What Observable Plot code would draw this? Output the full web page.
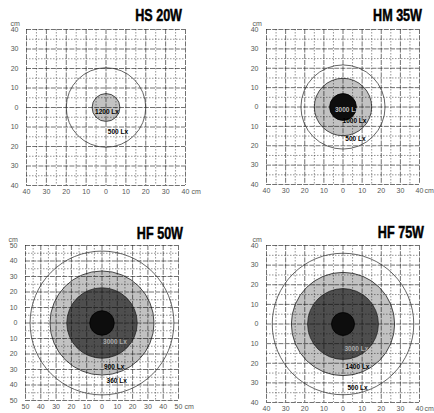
<!DOCTYPE html>
<html><head><meta charset="utf-8">
<script src="https://cdn.jsdelivr.net/npm/d3@7"></script>
<script src="https://cdn.jsdelivr.net/npm/@observablehq/plot@0.6"></script>
<style>
html,body{margin:0;padding:0;background:#fff}
body{width:434px;height:413px;position:relative;overflow:hidden;font-family:"Liberation Sans",Arial,sans-serif}
.panel{position:absolute}
.title{position:absolute;font-family:"Liberation Sans",Arial,sans-serif;font-weight:bold;font-size:17px;line-height:17px;text-align:right;color:#000;width:120px;transform:scaleX(0.74);transform-origin:right center;-webkit-text-stroke:0.5px #000;white-space:nowrap}
</style></head><body>
<script>
// ---- data ----
const titles = ["HS 20W", "HM 35W", "HF 50W", "HF 75W"];
const extents = [40, 40, 50, 40];                 // half-width of each chart (cm)
const ticks40 = [-40, -30, -20, -10, 0, 10, 20, 30, 40];
const ticks50 = [-50, -40, -30, -20, -10, 0, 10, 20, 30, 40, 50];
const grid40 = [-40,-35,-30,-25,-20,-15,-10,-5,0,5,10,15,20,25,30,35,40];
const grid50 = [-50,-45,-40,-35,-30,-25,-20,-15,-10,-5,0,5,10,15,20,25,30,35,40,45,50];
const unit = "cm";

// illuminance zones: radius in cm, zone type
const hs20Zones = [{radius: 20, zone: "ring"}, {radius: 7, zone: "light"}];
const hm35Zones = [{radius: 22, zone: "ring"}, {radius: 15, zone: "light"}, {radius: 7, zone: "core"}];
const hf50Zones = [{radius: 47, zone: "ring"}, {radius: 34, zone: "light"}, {radius: 23, zone: "dark"}, {radius: 8, zone: "core"}];
const hf75Zones = [{radius: 37, zone: "ring"}, {radius: 27, zone: "light"}, {radius: 18.5, zone: "dark"}, {radius: 6, zone: "core"}];

// lux labels (position in cm)
const hs20Labels = [{x: 0.5, y: -2.3, text: "1200 Lx", on: "light"}, {x: 6, y: -12.6, text: "500 Lx", on: "white"}];
const hm35Labels = [{x: 2, y: -1.5, text: "3000 Lx", on: "core"}, {x: 6, y: -7.3, text: "1000 Lx", on: "light"}, {x: 6.5, y: -16.5, text: "500 Lx", on: "white"}];
const hf50Labels = [{x: 8.5, y: -12.5, text: "3000 Lx", on: "dark"}, {x: 8, y: -28.6, text: "900 Lx", on: "light"}, {x: 9.6, y: -37.6, text: "360 Lx", on: "white"}];
const hf75Labels = [{x: 7, y: -12.7, text: "3000 Lx", on: "dark"}, {x: 7.6, y: -22, text: "1400 Lx", on: "light"}, {x: 7.6, y: -32.6, text: "500 Lx", on: "white"}];

// ---- drawing ----
const zoneFill = {light: "#c2c2c2", dark: "#4e4e4e", core: "#0d0d0d"};
const labelFill = {light: "#000", white: "#000", dark: "#aaa", core: "#bdbdbd"};
const tickColor = "#555";

function makePanel(i, zones, labels, box) {
  const ext = extents[i];
  const ticks = ext === 50 ? ticks50 : ticks40;
  const grid = ext === 50 ? grid50 : grid40;
  const fw = box.width - box.ml - box.mr;
  const pxPerCm = fw / (2 * ext);
  const filled = zones.filter(d => d.zone === "light" || d.zone === "dark");
  const cores = zones.filter(d => d.zone === "core");
  const rings = zones.filter(d => d.zone === "ring");
  const major = grid.filter(d => d % 10 === 0);
  const minor = grid.filter(d => d % 10 !== 0);
  const svg = Plot.plot({
    width: box.width, height: box.height,
    marginLeft: box.ml, marginRight: box.mr, marginTop: box.mt, marginBottom: box.mb,
    x: {domain: [-ext, ext]},
    y: {domain: [-ext, ext]},
    r: {type: "linear", domain: [0, ext], range: [0, ext * pxPerCm]},
    style: {fontFamily: "Liberation Sans, Arial, sans-serif", fontSize: "7px", color: tickColor, background: "transparent"},
    marks: [
      Plot.dot(filled, {x: d => 0, y: d => 0, r: "radius", fill: d => zoneFill[d.zone], stroke: "#222", strokeWidth: 0.8}),
      Plot.gridX(minor, {stroke: "#111", strokeOpacity: 0.75, strokeWidth: 0.6, strokeDasharray: "1.5,1.5"}),
      Plot.gridY(minor, {stroke: "#111", strokeOpacity: 0.75, strokeWidth: 0.6, strokeDasharray: "1.5,1.5"}),
      Plot.gridX(major, {stroke: "#111", strokeOpacity: 0.85, strokeWidth: 0.7, strokeDasharray: "5,1.2"}),
      Plot.gridY(major, {stroke: "#111", strokeOpacity: 0.85, strokeWidth: 0.7, strokeDasharray: "5,1.2"}),
      Plot.dot(cores, {x: d => 0, y: d => 0, r: "radius", fill: zoneFill.core, stroke: "#000", strokeWidth: 0.8}),
      Plot.dot(rings, {x: d => 0, y: d => 0, r: "radius", fill: "none", stroke: "#333", strokeWidth: 0.75}),
      Plot.axisX(ticks, {tickSize: 0, tickPadding: 4, label: null, tickFormat: d => `${Math.abs(d)}`}),
      Plot.axisY(ticks, {tickSize: 0, tickPadding: 8, label: null, tickFormat: d => `${Math.abs(d)}`}),
      Plot.text([unit], {frameAnchor: "bottom-right", dx: box.unitDx, dy: 4, textAnchor: "start", lineAnchor: "top", fontSize: 7, fill: tickColor}),
      Plot.text([unit], {frameAnchor: "top-left", dx: box.cmDx, dy: -4, textAnchor: "start", lineAnchor: "bottom", fontSize: 7, fill: tickColor}),
      Plot.text(labels, {x: "x", y: "y", text: "text", fontSize: 6.5, fontWeight: "bold", fill: d => labelFill[d.on]})
    ]
  });
  const div = document.createElement("div");
  div.className = "panel";
  div.style.left = box.left + "px";
  div.style.top = box.top + "px";
  div.appendChild(svg);
  document.body.appendChild(div);
  const t = document.createElement("div");
  t.className = "title";
  t.textContent = titles[i];
  t.style.left = (box.titleRight - 120) + "px";
  t.style.top = box.titleTop + "px";
  document.body.appendChild(t);
}

makePanel(0, hs20Zones, hs20Labels, {left: 0, top: 0, width: 217, height: 206, ml: 26, mr: 32, mt: 29, mb: 21, cmDx: -16, unitDx: 6, titleRight: 182, titleTop: 7});
makePanel(1, hm35Zones, hm35Labels, {left: 217, top: 0, width: 217, height: 206, ml: 49, mr: 15, mt: 29, mb: 22, cmDx: -14, unitDx: 5, titleRight: 422, titleTop: 7});
makePanel(2, hf50Zones, hf50Labels, {left: 0, top: 206, width: 217, height: 207, ml: 25, mr: 39, mt: 39, mb: 13, cmDx: -17, unitDx: 6, titleRight: 183, titleTop: 225});
makePanel(3, hf75Zones, hf75Labels, {left: 217, top: 206, width: 217, height: 207, ml: 49, mr: 15, mt: 39, mb: 11, cmDx: -14, unitDx: 5, titleRight: 424, titleTop: 224});
</script>
</body></html>
